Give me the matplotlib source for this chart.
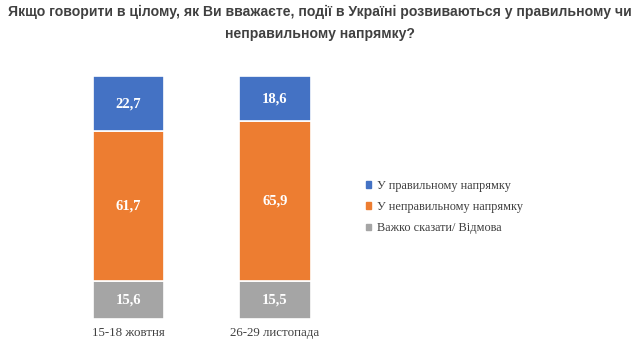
import matplotlib.pyplot as plt
from matplotlib.patches import Patch

# дані
periods = ['15-18 жовтня', '26-29 листопада']
series = ['У правильному напрямку', 'У неправильному напрямку', 'Важко сказати/ Відмова']
right = [22.7, 18.6]
wrong = [61.7, 65.9]
hard = [15.6, 15.5]
colors = ['#4472C4', '#ED7D31', '#A5A5A5']

fig = plt.figure(figsize=(6.4, 3.52), dpi=100)
ax = fig.add_axes([55.25 / 640, 1 - 319 / 352, 293 / 640, (319 - 76) / 352])

x = range(len(periods))
w = 0.485
bottoms = [0, 0]
# знизу вгору: сірий, помаранчевий, синій
for vals, col in [(hard, colors[2]), (wrong, colors[1]), (right, colors[0])]:
    bars = ax.bar(x, vals, w, bottom=bottoms, color=col, edgecolor='white', linewidth=1.2)
    for b, v, bt in zip(bars, vals, bottoms):
        ax.text(b.get_x() + b.get_width() / 2, bt + v / 2, f'{v:.1f}'.replace('.', ','),
                ha='center', va='center', color='white', fontsize=10.5,
                fontweight='bold', family='Liberation Serif')
    bottoms = [a + b for a, b in zip(bottoms, vals)]

ax.set_xlim(-0.5, 1.5)
ax.set_ylim(0, 100)
ax.set_xticks(list(x))
ax.set_xticklabels(periods, family='Liberation Serif', fontsize=9.3, color='#404040')
ax.tick_params(axis='x', length=0, pad=6)
ax.set_yticks([])
for s in ax.spines.values():
    s.set_visible(False)

handles = [Patch(color=c, label=l) for c, l in zip(colors, series)]
leg = fig.legend(handles=handles, loc='center left', bbox_to_anchor=(355 / 640, 1 - 207 / 352),
                 frameon=False, handlelength=0.42, handleheight=0.42, handletextpad=0.5,
                 labelspacing=0.75, prop={'family': 'Liberation Serif', 'size': 8.8})
for t in leg.get_texts():
    t.set_color('#404040')

fig.text(0.5, 1 - 23 / 352,
         'Якщо говорити в цілому, як Ви вважаєте, події в Україні розвиваються у правильному чи\n'
         'неправильному напрямку?',
         ha='center', va='center', fontsize=10.1, fontweight='bold', color='#404040',
         family='Liberation Sans', linespacing=1.75)

fig.savefig('out.png', dpi=100)
